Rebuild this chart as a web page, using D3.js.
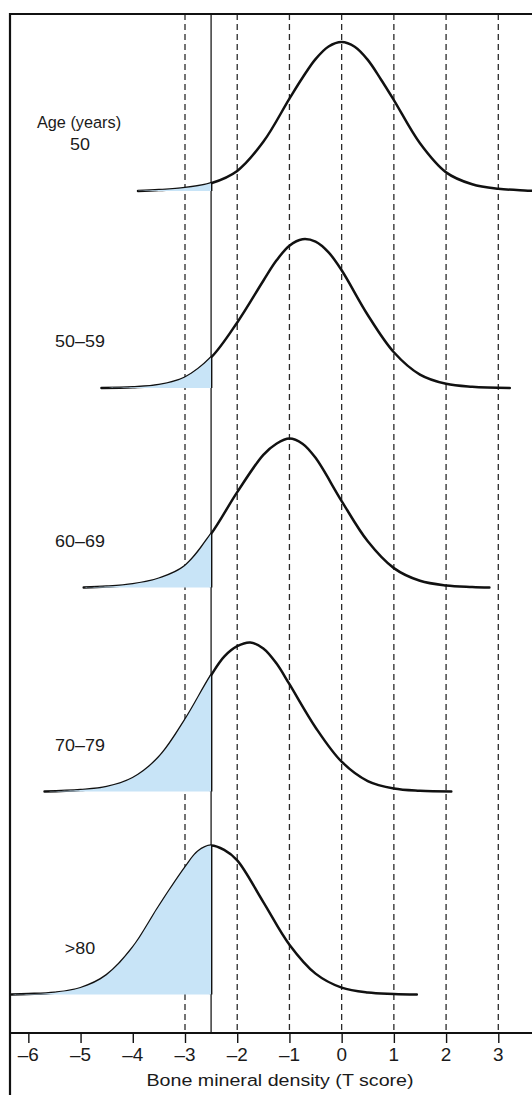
<!DOCTYPE html>
<html>
<head>
<meta charset="utf-8">
<script src="https://cdn.jsdelivr.net/npm/d3@7"></script>
<style>
  html, body { margin: 0; padding: 0; background: #fff; }
  svg { display: block; }
  text { font-family: "Liberation Sans", Arial, sans-serif; fill: #1a1a1a; }
</style>
</head>
<body>
<svg id="chart" width="532" height="1095"></svg>
<script>
// ---------------- data ----------------
const ageGroups = ["50", "50–59", "60–69", "70–79", ">80"];
const headerLabel = "Age (years)";
const axisTitle = "Bone mineral density (T score)";
const tickValues = [-6, -5, -4, -3, -2, -1, 0, 1, 2, 3];
const tickLabels = ["–6", "–5", "–4", "–3", "–2", "–1", "0", "1", "2", "3"];
const gridValues = [-3, -2, -1, 0, 1, 2, 3];
const threshold = -2.5;

// [T score, relative density]
const curve50 = [[-3.9,0],[-3.5,0.006],[-3,0.02],[-2.5,0.052],[-2,0.135],[-1.5,0.33],[-1,0.62],[-0.75,0.76],[-0.5,0.885],[-0.25,0.97],[0,1],[0.25,0.968],[0.5,0.88],[0.75,0.75],[1,0.61],[1.5,0.32],[2,0.125],[2.5,0.045],[3,0.015],[3.5,0.004],[3.9,0]];
const curve5059 = [[-4.6,0],[-4,0.005],[-3.5,0.02],[-3,0.07],[-2.5,0.205],[-2,0.44],[-1.5,0.72],[-1.25,0.855],[-1,0.955],[-0.75,0.998],[-0.5,0.982],[-0.25,0.91],[0,0.79],[0.5,0.49],[1,0.24],[1.5,0.09],[2,0.028],[2.5,0.008],[3.22,0]];
const curve6069 = [[-4.94,0],[-4.5,0.006],[-4,0.022],[-3.5,0.06],[-3,0.145],[-2.5,0.36],[-2,0.64],[-1.5,0.89],[-1.25,0.965],[-1,1],[-0.75,0.965],[-0.5,0.87],[0,0.58],[0.5,0.31],[1,0.13],[1.5,0.045],[2,0.014],[2.5,0.004],[2.83,0]];
const curve7079 = [[-5.69,0],[-5,0.01],[-4.5,0.03],[-4,0.09],[-3.5,0.23],[-3,0.48],[-2.5,0.78],[-2.25,0.905],[-2,0.975],[-1.75,1],[-1.5,0.96],[-1.25,0.86],[-1,0.72],[-0.5,0.43],[0,0.2],[0.5,0.07],[1,0.02],[1.5,0.005],[2.1,0]];
const curve80 = [[-6.35,0],[-6,0.003],[-5.5,0.012],[-5,0.043],[-4.5,0.13],[-4,0.315],[-3.5,0.59],[-3,0.85],[-2.75,0.96],[-2.5,1],[-2.25,0.97],[-2,0.9],[-1.5,0.62],[-1,0.334],[-0.5,0.14],[0,0.046],[0.5,0.013],[1,0.004],[1.44,0]];
const curves = [curve50, curve5059, curve6069, curve7079, curve80];

// ---------------- layout ----------------
const W = 532, H = 1095;
const frameLeft = 10, frameTop = 14, axisY = 1033;
const svg = d3.select("#chart");

const x = d3.scaleLinear().domain([-3, 3]).range([185, 498.3]);
const rowBase = d3.scaleOrdinal().domain(ageGroups).range([191, 388, 587.5, 791.5, 994.5]);
const dens = d3.scaleLinear().domain([0, 1]).range([0, 149]);
const smooth = d3.curveCatmullRom.alpha(0.5);

const defs = svg.append("defs");
defs.append("clipPath").attr("id", "plotclip")
  .append("rect").attr("x", frameLeft + 1).attr("y", frameTop).attr("width", W - frameLeft).attr("height", axisY - frameTop);
defs.append("clipPath").attr("id", "fillclip")
  .append("rect").attr("x", frameLeft + 1).attr("y", frameTop).attr("width", x(threshold) - frameLeft - 1).attr("height", axisY - frameTop);

const plot = svg.append("g").attr("clip-path", "url(#plotclip)");
const fills = svg.append("g").attr("clip-path", "url(#fillclip)");

// fills (area under curve, left of threshold)
ageGroups.forEach((g, i) => {
  const base = rowBase(g);
  const area = d3.area()
    .x(d => x(d[0]))
    .y0(base)
    .y1(d => base - dens(d[1]))
    .curve(smooth);
  fills.append("path").attr("d", area(curves[i])).attr("fill", "#c8e4f7");
});

// dashed grid lines
plot.selectAll("line.grid").data(gridValues).join("line")
  .attr("class", "grid")
  .attr("x1", d => x(d)).attr("x2", d => x(d))
  .attr("y1", frameTop).attr("y2", axisY)
  .attr("stroke", "#2a2a2a").attr("stroke-width", 1.3)
  .attr("stroke-dasharray", "6,4");

// threshold solid line
plot.append("line")
  .attr("x1", x(threshold)).attr("x2", x(threshold))
  .attr("y1", frameTop).attr("y2", axisY)
  .attr("stroke", "#3a3a3a").attr("stroke-width", 1.5);

// curves and threshold segments
ageGroups.forEach((g, i) => {
  const base = rowBase(g);
  const line = d3.line()
    .x(d => x(d[0]))
    .y(d => base - dens(d[1]))
    .curve(smooth);
  plot.append("path").attr("d", line(curves[i]))
    .attr("fill", "none").attr("stroke", "#111").attr("stroke-width", 2.5)
    .attr("stroke-linejoin", "round").attr("stroke-linecap", "round");
  const at = curves[i].find(d => d[0] === threshold);
  plot.append("line")
    .attr("x1", x(threshold)).attr("x2", x(threshold))
    .attr("y1", base).attr("y2", base - dens(at[1]))
    .attr("stroke", "#111").attr("stroke-width", 2.6);
});

// frame
svg.append("line").attr("x1", frameLeft).attr("x2", W).attr("y1", frameTop).attr("y2", frameTop)
  .attr("stroke", "#111").attr("stroke-width", 2.2);
svg.append("line").attr("x1", frameLeft).attr("x2", frameLeft).attr("y1", frameTop - 1.1).attr("y2", H)
  .attr("stroke", "#111").attr("stroke-width", 2.2);

// axis
const axis = d3.axisBottom(x)
  .tickValues(tickValues)
  .tickSize(10)
  .tickFormat((d, i) => tickLabels[i]);
const gAxis = svg.append("g").attr("transform", `translate(0,${axisY})`).call(axis);
gAxis.select(".domain").remove();
gAxis.selectAll(".tick line").attr("stroke", "#111").attr("stroke-width", 1.4);
gAxis.selectAll(".tick text").remove();
svg.append("line").attr("x1", frameLeft).attr("x2", W).attr("y1", axisY).attr("y2", axisY)
  .attr("stroke", "#111").attr("stroke-width", 1.8);

// tick labels
svg.selectAll("text.tl").data(tickValues).join("text")
  .attr("class", "tl")
  .attr("transform", d => `translate(${x(d)},1061) scale(1.08,1)`)
  .attr("text-anchor", "middle")
  .attr("font-size", 17.5)
  .text((d, i) => tickLabels[i]);

// axis title
svg.append("text")
  .attr("transform", `translate(280,1085.5) scale(1.13,1)`)
  .attr("text-anchor", "middle")
  .attr("font-size", 17.4)
  .text(axisTitle);

// row labels
svg.append("text")
  .attr("transform", `translate(79,128)`)
  .attr("text-anchor", "middle")
  .attr("font-size", 16.3)
  .text(headerLabel);
svg.selectAll("text.rl").data(ageGroups).join("text")
  .attr("class", "rl")
  .attr("transform", d => `translate(80,${rowBase(d) - 41}) scale(1.1,1)`)
  .attr("text-anchor", "middle")
  .attr("font-size", 16.3)
  .text(d => d);
</script>
</body>
</html>
